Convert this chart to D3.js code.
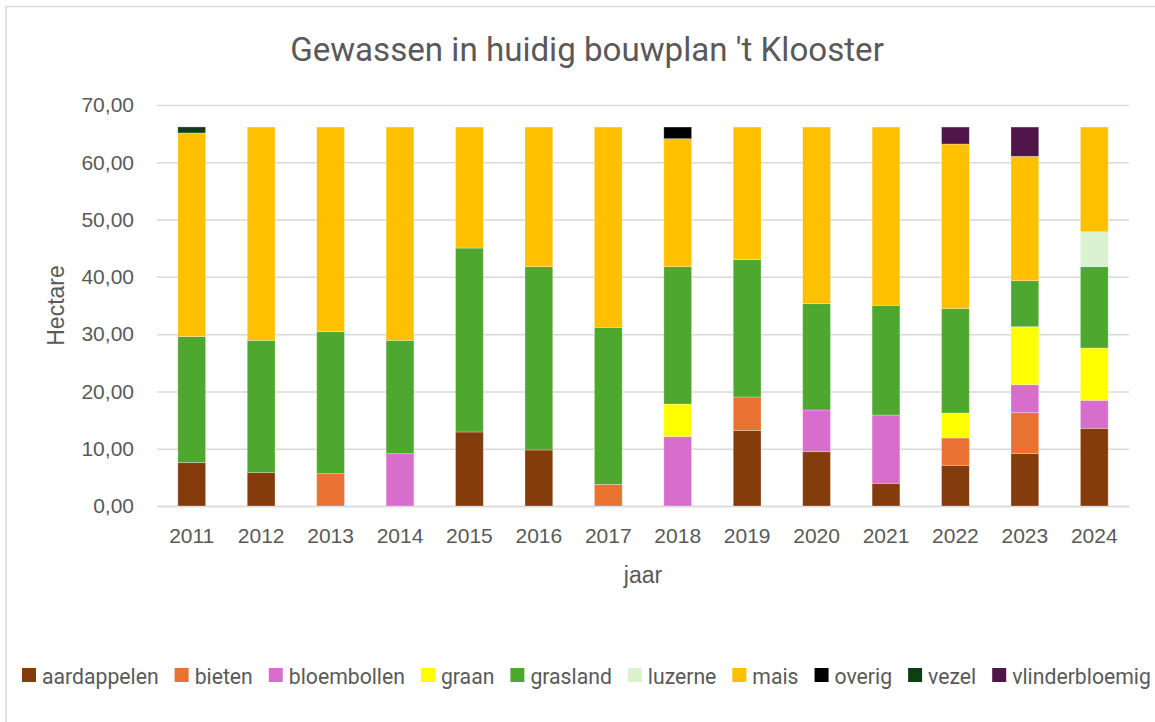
<!DOCTYPE html>
<html>
<head>
<meta charset="utf-8">
<script src="https://cdn.jsdelivr.net/npm/d3@7"></script>
<style>
  html, body { margin: 0; padding: 0; background: #fff; }
  svg { display: block; }
</style>
</head>
<body>
<svg id="chart" width="1155" height="722"></svg>
<script>
// ---- DATA ----
const years = ["2011","2012","2013","2014","2015","2016","2017","2018","2019","2020","2021","2022","2023","2024"];
const aardappelen    = [7.57, 5.87, 0, 0, 12.92, 9.78, 0, 0, 13.20, 9.48, 3.96, 7.10, 9.14, 13.56];
const bieten         = [0, 0, 5.65, 0, 0, 0, 3.78, 0, 5.83, 0, 0, 4.77, 7.15, 0];
const bloembollen    = [0, 0, 0, 9.14, 0, 0, 0, 12.10, 0, 7.28, 11.92, 0, 4.89, 4.89];
const graan          = [0, 0, 0, 0, 0, 0, 0, 5.70, 0, 0, 0, 4.36, 10.12, 9.13];
const grasland       = [22.00, 23.05, 24.78, 19.78, 32.11, 32.00, 27.41, 23.98, 23.97, 18.56, 19.15, 18.22, 8.03, 14.20];
const luzerne        = [0, 0, 0, 0, 0, 0, 0, 0, 0, 0, 0, 0, 0, 6.10];
const mais           = [35.55, 37.23, 35.72, 37.23, 21.12, 24.37, 34.96, 22.34, 23.15, 30.83, 31.12, 28.74, 21.71, 18.27];
const overig         = [0, 0, 0, 0, 0, 0, 0, 2.03, 0, 0, 0, 0, 0, 0];
const vezel          = [1.05, 0, 0, 0, 0, 0, 0, 0, 0, 0, 0, 0, 0, 0];
const vlinderbloemig = [0, 0, 0, 0, 0, 0, 0, 0, 0, 0, 0, 2.96, 5.11, 0];

const seriesNames = ["aardappelen","bieten","bloembollen","graan","grasland","luzerne","mais","overig","vezel","vlinderbloemig"];
const seriesValues = [aardappelen, bieten, bloembollen, graan, grasland, luzerne, mais, overig, vezel, vlinderbloemig];
const seriesColors = ["#843C0C","#E97132","#D86ECC","#FFFF00","#4EA72E","#DAF2D0","#FFC000","#000000","#0E3F14","#501549"];
const yTicks = [0, 10, 20, 30, 40, 50, 60, 70];
const titleText = "Gewassen in huidig bouwplan 't Klooster";
const xTitle = "jaar";
const yTitle = "Hectare";

// ---- BUILD TABLE ----
const table = years.map((y, i) => {
  const row = { year: y };
  seriesNames.forEach((s, k) => row[s] = seriesValues[k][i]);
  return row;
});

const svg = d3.select("#chart");
const W = 1155, H = 722;
const plot = { left: 157, right: 1129, top: 105, bottom: 506 };
const textColor = "#595959";
const gridColor = "#D9D9D9";
const axisFont = "'Liberation Sans', Arial, sans-serif";
const titleFont = "Roboto, 'Noto Sans', sans-serif";

// chart border
svg.append("rect")
  .attr("x", 6).attr("y", 6.5).attr("width", W + 20).attr("height", H + 20)
  .attr("fill", "#fff").attr("stroke", gridColor).attr("stroke-width", 1.5);

const x = d3.scaleBand().domain(years).range([plot.left, plot.right]).paddingInner(0.6).paddingOuter(0.3);
const y = d3.scaleLinear().domain([0, 70]).range([plot.bottom, plot.top]);

// gridlines
const yAxis = d3.axisLeft(y).tickValues(yTicks)
  .tickSize(-(plot.right - plot.left))
  .tickFormat(d => d3.format(".2f")(d).replace(".", ","))
  .tickPadding(23);
const gy = svg.append("g").attr("transform", `translate(${plot.left},0)`).call(yAxis);
gy.select(".domain").remove();
gy.selectAll(".tick line").attr("stroke", gridColor).attr("stroke-width", 1.5);
gy.selectAll(".tick text").attr("fill", textColor).style("font-family", axisFont).style("font-size", "21px");

// x axis
const xAxis = d3.axisBottom(x).tickSize(0).tickPadding(22);
const gx = svg.append("g").attr("transform", `translate(0,${plot.bottom})`).call(xAxis);
gx.select(".domain").attr("stroke", gridColor).attr("stroke-width", 1.5);
gx.selectAll(".tick text").attr("fill", textColor).style("font-family", axisFont).style("font-size", "21px");

// bars
const stack = d3.stack().keys(seriesNames);
const stacked = stack(table);
const color = d3.scaleOrdinal().domain(seriesNames).range(seriesColors);
svg.append("g").selectAll("g")
  .data(stacked).join("g")
  .attr("fill", d => color(d.key))
  .selectAll("rect")
  .data(d => d.filter(p => p[1] - p[0] > 0))
  .join("rect")
  .attr("x", d => x(d.data.year))
  .attr("width", x.bandwidth())
  .attr("y", d => y(d[1]))
  .attr("height", d => y(d[0]) - y(d[1]))
  .attr("stroke", "rgba(255,255,255,0.35)")
  .attr("stroke-width", 0.8);

// title
const title = svg.append("text")
  .attr("x", 587).attr("y", 61)
  .attr("text-anchor", "middle")
  .attr("fill", textColor)
  .style("font-family", titleFont)
  .style("font-size", "33px")
  .text(titleText);
{
  const w = title.node().getComputedTextLength();
  const target = 594;
  title.style("font-size", (33 * target / w).toFixed(2) + "px");
}

// axis titles
svg.append("text")
  .attr("x", (plot.left + plot.right) / 2).attr("y", 583)
  .attr("text-anchor", "middle").attr("fill", textColor)
  .style("font-family", axisFont).style("font-size", "23px")
  .text(xTitle);
svg.append("text")
  .attr("transform", `translate(64,${(plot.top + plot.bottom) / 2}) rotate(-90)`)
  .attr("text-anchor", "middle").attr("fill", textColor)
  .style("font-family", axisFont).style("font-size", "23px")
  .text(yTitle);

// legend
const legend = svg.append("g");
const sq = 14, gapA = 6, gapB = 16;
const legendStart = 22, legendEnd = 1151, legendBase = 684;
let legendSize = 20;
const items = seriesNames.map((n, i) => {
  const g = legend.append("g");
  g.append("rect").attr("width", sq).attr("height", sq).attr("y", legendBase - 16).attr("fill", seriesColors[i]);
  const t = g.append("text").attr("y", legendBase).attr("fill", textColor)
    .style("font-family", titleFont).style("font-size", legendSize + "px").text(n);
  return { g, t };
});
function layout() {
  let cx = legendStart;
  items.forEach((it, i) => {
    it.g.attr("transform", `translate(${cx},0)`);
    it.t.attr("x", sq + gapA);
    cx += sq + gapA + it.t.node().getComputedTextLength() + (i < items.length - 1 ? gapB : 0);
  });
  return cx - legendStart;
}
let total = layout();
const fixed = items.length * (sq + gapA) + (items.length - 1) * gapB;
legendSize = legendSize * (legendEnd - legendStart - fixed) / (total - fixed);
items.forEach(it => it.t.style("font-size", legendSize.toFixed(2) + "px"));
layout();
</script>
</body>
</html>
